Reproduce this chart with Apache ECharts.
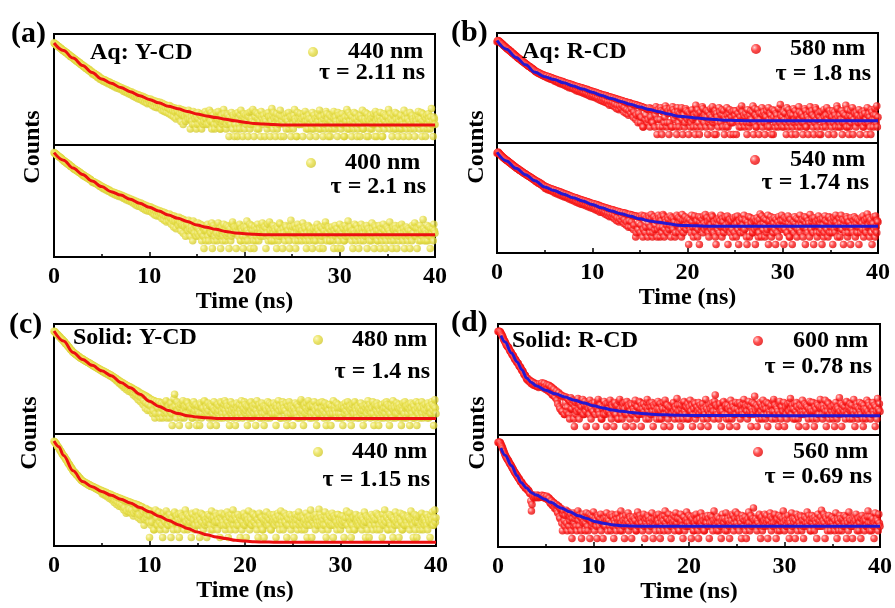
<!DOCTYPE html>
<html>
<head>
<meta charset="utf-8">
<script src="https://cdn.jsdelivr.net/npm/echarts/dist/echarts.min.js"></script>
<style>
  html, body { margin: 0; padding: 0; background: #fff; }
  #chart { width: 895px; height: 608px; }
</style>
</head>
<body>
<div id="chart"></div>
<script>
// TCSPC decay histograms: photon counts per 0.0625 ns channel, 0–40 ns (16 channels per row = 1 ns)
const timeStep = 0.0625;

// (a) Aq: Y-CD, 440 nm
const countsA440 = [
  5400,5000,4700,4650,4500,4150,3950,3900,3800,3500,3300,3300,3200,2950,2800,2700,
  2550,2600,2480,2250,2150,2180,2100,1900,1800,1850,1760,1580,1500,1550,1470,1380,
  1350,1240,1180,1220,1140,1030,990,1040,960,880,840,890,820,740,710,730,
  690,620,600,640,590,520,510,550,500,440,430,470,425,380,370,395,
  345,300,320,340,315,265,270,295,268,225,235,255,230,190,200,215,
  188,170,192,160,165,182,172,140,150,163,155,125,138,148,140,118,
  125,108,130,120,112,96,118,109,100,86,106,98,90,80,95,88,
  84,72,88,78,74,62,80,70,66,56,72,64,60,50,65,58,
  55,46,60,52,50,40,54,47,44,36,49,43,40,32,46,40,
  38,30,42,36,33,26,39,34,30,23,35,30,27,20,32,28,
  27,21,31,26,24,17,28,23,21,15,26,22,19,14,24,20,
  19,14,23,18,16,11,21,17,14,10,19,15,13,9,17,14,
  13,8,17,12,11,7,15,12,10,6,14,11,9,5,13,10,
  10,6,13,9,8,4,12,9,7,3,11,8,6,4,10,7,
  8,5,11,7,5,2,9,6,4,3,10,7,3,5,8,2,
  6,3,9,5,3,7,7,4,2,6,8,3,4,9,10,5,
  5,3,8,6,3,11,6,4,9,2,4,7,7,3,2,5,
  6,9,3,5,10,4,5,2,2,6,7,3,4,12,8,4,
  5,2,3,8,7,4,1,6,4,3,9,5,2,7,6,1,
  3,6,8,2,1,9,5,3,2,7,11,4,4,1,6,8,
  2,5,7,3,4,8,1,6,9,2,3,10,5,4,12,3,
  1,4,6,9,3,2,8,5,2,7,4,1,10,6,5,3,
  7,4,1,5,4,8,2,3,9,6,3,1,6,4,13,7,
  2,9,5,3,1,6,8,2,4,5,3,7,11,1,6,4,
  4,6,1,3,7,5,2,8,5,4,9,2,3,6,1,5,
  6,3,2,7,12,5,4,1,1,9,5,3,3,6,8,4,
  3,5,1,8,6,3,10,4,2,6,4,2,7,5,1,3,
  5,2,9,4,2,7,3,5,1,3,6,8,4,2,11,6,
  2,6,4,3,1,5,7,2,3,10,8,4,5,1,2,7,
  1,4,6,2,3,8,10,5,2,6,4,3,1,9,7,3,
  4,7,2,5,8,3,5,1,1,6,3,4,12,2,6,9,
  2,4,7,3,1,6,4,2,9,5,3,8,5,1,2,4,
  6,3,1,7,3,5,11,2,2,4,5,9,4,1,8,5,
  1,6,4,2,7,5,2,3,6,8,3,1,10,4,1,7,
  5,3,2,6,9,4,3,1,1,5,8,2,4,7,6,3,
  3,6,12,4,2,8,5,3,1,4,7,2,4,9,2,5,
  8,3,1,5,4,2,6,7,2,4,3,1,11,6,5,3,
  2,8,5,3,1,4,9,2,3,6,7,5,4,2,1,5,
  6,4,3,7,10,5,2,3,5,9,1,4,8,2,4,6,
  1,5,7,2,3,8,5,4,2,6,13,3,4,1,6,5,
  3
];
const fitA440 = [[0,5250],[1,2630],[2,1320],[3,676],[4,355],[5,195],[6,132],[7,89],[8,61],[9,42],
  [10,30],[11,22],[12,16],[13,12.8],[14,10],[15,7.9],[16,6.6],[17,5.7],[18,4.9],[19,4.2],
  [20,3.7],[21,3.3],[22,3.16],[23,3.0],[24,2.9],[30,2.9],[40,2.9]];

// (a) Aq: Y-CD, 400 nm
const countsA400 = [
  6100,5800,5400,5300,5150,4800,4550,4450,4300,4000,3850,3800,3650,3350,3200,3100,
  2950,2700,2820,2600,2450,2300,2380,2150,2050,2100,1990,1800,1720,1750,1650,1560,
  1500,1380,1340,1360,1300,1200,1160,1190,1120,1040,1000,1030,970,900,870,860,
  810,740,790,720,700,660,680,610,600,620,585,540,520,530,500,460,
  450,400,420,430,410,370,365,385,360,330,320,340,315,280,285,295,
  265,245,268,225,235,250,238,200,210,225,212,180,188,200,190,165,
  168,150,172,162,152,135,160,150,140,122,148,138,128,112,136,126,
  120,108,126,115,106,94,114,104,98,84,104,94,86,76,95,86,
  80,70,88,78,72,60,79,70,64,52,72,63,58,46,66,58,
  54,44,62,53,48,38,55,47,43,33,51,43,38,30,46,40,
  37,29,44,36,33,25,39,33,29,21,36,30,26,19,33,27,
  26,19,31,25,22,15,28,22,19,13,26,20,17,11,23,18,
  18,12,23,17,15,9,20,15,12,7,19,14,11,6,17,12,
  13,8,17,12,10,5,15,10,8,4,14,9,7,3,12,8,
  9,5,13,8,6,3,11,7,5,2,12,6,4,8,9,3,
  7,4,10,6,3,5,9,4,2,7,8,3,1,5,6,2,
  5,8,9,3,2,6,7,4,4,10,1,5,8,2,3,6,
  6,4,2,8,10,3,4,6,1,5,7,2,3,9,5,4,
  2,6,8,3,4,7,1,5,6,2,3,9,11,4,5,7,
  4,6,1,5,7,4,3,8,9,2,2,6,5,3,1,7,
  6,2,3,7,12,5,2,4,4,9,1,6,8,3,5,2,
  1,7,5,2,3,6,9,4,2,5,6,3,4,8,10,5,
  3,5,7,4,1,6,4,9,2,3,11,5,5,2,2,6,
  8,4,2,6,5,3,1,7,6,2,3,10,9,5,4,3,
  1,6,4,3,2,8,7,4,3,5,5,2,1,7,13,4,
  5,7,3,4,8,2,1,6,4,9,2,5,6,3,3,7,
  2,5,10,3,4,7,6,2,1,4,3,8,7,2,5,6,
  4,3,1,5,6,2,3,7,2,4,9,6,5,3,1,4,
  7,2,3,6,1,4,5,8,11,3,2,5,4,7,6,2,
  2,4,5,7,3,2,1,5,8,3,4,6,6,1,2,4,
  9,5,1,3,4,7,6,2,2,8,3,4,5,6,12,4,
  3,6,7,4,2,5,1,3,5,9,4,2,8,5,3,6,
  1,4,5,2,9,6,3,4,2,7,6,3,4,8,1,5,
  6,3,2,5,4,2,10,6,3,4,1,8,7,3,5,2,
  2,5,8,3,1,6,4,2,6,9,3,5,5,1,2,7,
  4,6,3,5,11,4,2,3,1,6,7,2,5,8,6,3,
  1,4,6,2,3,8,5,4,9,3,2,6,4,1,3,5,
  7,4,2,6,5,3,1,5,3,2,8,4,4,7,10,3,
  3,6,1,4,6,2,4,8,2,5,5,3,14,6,2,4,
  5,2,4,8,2,5,7,3,1,6,3,4,6,2,9,5,
  4
];
const fitA400 = [[0,6000],[1,3020],[2,1480],[3,832],[4,457],[5,275],[6,174],[7,127],[8,87],[9,60],
  [10,42],[11,30],[12,21],[13,15.5],[14,11.5],[15,8.4],[16,6.8],[17,5.7],[18,4.7],[19,4.1],
  [20,3.8],[21,3.6],[22,3.5],[30,3.5],[40,3.5]];

// (b) Aq: R-CD, 580 nm
const countsB580 = [
  5300,5800,6000,5700,5500,5200,5000,4700,4400,4300,4050,3800,3600,3500,3300,3150,
  3000,2800,2700,2650,2550,2350,2250,2200,2100,1950,1850,1820,1750,1600,1550,1500,
  1420,1330,1300,1200,1200,1100,1080,1050,1010,930,900,880,850,790,760,740,
  700,660,650,610,600,560,540,530,520,480,465,455,440,410,395,385,
  360,330,345,315,320,290,310,275,285,262,280,245,255,238,250,222,
  235,215,205,222,225,188,190,205,210,170,175,190,192,158,165,180,
  172,140,150,165,160,125,135,150,152,112,122,142,140,104,118,134,
  126,96,104,122,118,86,95,112,112,76,86,106,104,72,84,100,
  94,66,72,92,88,58,68,86,84,54,62,80,78,50,60,76,
  72,46,52,70,68,42,48,66,63,38,44,60,58,34,42,56,
  54,32,38,52,50,30,35,49,47,27,31,45,44,24,30,42,
  40,22,28,39,38,20,25,37,36,18,22,34,33,15,21,32,
  31,15,20,30,29,13,17,28,27,11,15,26,25,10,14,24,
  24,11,15,23,22,8,12,21,21,7,10,20,19,6,9,19,
  18,7,11,17,17,5,8,16,16,4,6,15,15,3,7,14,
  14,3,5,13,13,2,2,12,12,4,6,11,11,3,4,10,
  12,2,5,11,10,3,3,9,11,2,6,13,9,1,4,10,
  10,2,4,12,9,1,2,8,8,3,5,14,11,2,3,7,
  9,1,3,11,7,2,2,13,10,5,4,8,6,2,1,12,
  8,3,2,7,5,10,12,4,1,6,6,2,3,11,9,5,
  4,8,1,5,7,2,3,9,10,4,2,6,5,1,15,7,
  2,10,6,3,1,7,8,2,4,13,11,5,3,6,5,2,
  9,5,1,8,3,4,6,11,2,5,13,3,4,1,7,9,
  1,7,5,3,2,12,8,4,3,6,10,2,6,9,1,5,
  4,2,12,6,2,4,7,10,1,3,5,8,3,1,9,5,
  6,9,1,4,4,7,3,2,11,5,2,14,8,3,5,6,
  2,5,7,3,1,10,5,2,3,6,9,4,4,8,14,1,
  3,11,6,2,2,5,10,4,1,7,4,3,7,12,2,6,
  8,3,1,6,5,9,3,2,12,4,2,7,6,1,4,10,
  1,5,9,2,3,7,6,4,2,11,4,3,16,6,5,2,
  5,8,2,4,7,3,1,12,4,2,10,5,3,7,6,1,
  2,6,11,3,4,9,1,5,6,2,3,13,8,4,2,6,
  7,3,1,5,3,11,9,2,2,6,5,1,4,8,13,3,
  4,9,6,2,1,5,3,12,10,4,2,6,7,1,5,8,
  1,4,8,2,3,10,5,3,2,6,12,4,4,1,6,9,
  3,7,2,5,9,3,1,8,6,2,4,14,11,5,2,3,
  6,2,4,9,1,3,7,4,3,6,15,2,2,10,5,1,
  2,6,9,3,5,12,1,4,4,7,3,2,8,5,6,3,
  10,4,1,5,3,8,6,2,2,9,7,3,4,1,12,6,
  3,7,5,2,1,10,8,4,2,6,4,11,6,3,14,2,
  5
];
const fitB580 = [[0,6000],[1,2680],[2,1260],[3,631],[4,316],[5,210],[6,163],[7,120],[8,89],[9,67],
  [10,50],[11,37],[12,28],[13,21.5],[14,16.6],[15,12.7],[16,10.1],[17,8.3],[18,6.7],[19,5.5],
  [20,5.1],[21,4.6],[22,4.25],[23,4.0],[24,3.8],[25,3.7],[26,3.6],[40,3.6]];

// (b) Aq: R-CD, 540 nm
const countsB540 = [
  4600,5000,5200,4800,4500,4250,4000,3800,3600,3400,3250,3050,2900,2800,2650,2550,
  2450,2380,2250,2150,2080,1980,1900,1830,1750,1650,1600,1520,1450,1400,1350,1300,
  1250,1150,1130,1110,1080,1000,970,960,920,860,840,820,790,740,720,710,
  690,640,620,610,600,560,540,535,520,480,470,465,450,415,405,400,
  385,350,330,360,335,300,290,315,295,262,255,275,252,225,215,235,
  218,178,188,208,200,160,170,192,185,148,155,176,170,135,145,162,
  158,118,128,150,145,108,120,140,135,98,108,128,124,90,100,118,
  112,82,90,108,104,76,84,100,96,68,76,92,88,62,70,84,
  80,56,64,78,76,50,58,72,70,46,52,66,64,42,50,62,
  60,40,46,58,56,36,42,54,52,33,38,50,48,30,35,46,
  45,28,34,44,42,25,30,41,40,23,27,38,36,20,25,35,
  33,20,24,32,31,17,21,30,29,15,19,28,27,13,17,26,
  25,13,17,25,24,11,15,23,22,9,12,22,21,8,11,20,
  20,9,13,19,19,7,10,18,18,6,8,17,16,5,9,16,
  16,5,8,15,15,4,6,14,14,2,3,14,13,4,7,13,
  13,3,6,15,12,2,4,13,14,3,5,12,11,2,7,14,
  12,3,5,16,10,2,3,12,13,4,6,11,9,2,4,15,
  11,5,2,13,9,3,5,16,14,2,4,10,8,6,3,12,
  10,4,6,14,2,9,12,5,4,11,8,2,3,13,15,6,
  7,12,3,8,11,4,2,16,9,3,5,10,13,6,4,9,
  6,11,1,7,10,4,3,15,8,5,2,12,14,3,5,8,
  9,2,4,13,1,8,12,5,6,10,3,14,7,4,16,6,
  5,12,8,3,2,9,11,6,4,15,13,5,3,8,7,2,
  1,7,10,4,6,12,3,9,15,5,2,11,8,3,5,13,
  12,6,4,14,1,5,7,10,3,8,9,4,2,12,11,3,
  6,13,2,7,14,4,1,9,8,3,5,11,10,6,3,15,
  4,10,9,2,1,8,6,13,2,5,12,7,7,3,3,9,
  11,4,1,9,5,12,8,2,3,10,17,6,2,14,6,4,
  7,11,2,6,10,3,4,15,1,8,9,5,13,2,5,10,
  3,7,12,4,1,10,6,3,8,13,2,6,5,9,15,4,
  9,5,1,12,4,8,11,3,3,14,7,2,2,10,6,4,
  1,6,8,3,13,7,5,11,2,4,10,6,4,15,3,8,
  6,10,2,5,9,13,1,7,12,4,3,9,7,2,16,5,
  4,8,11,3,1,12,5,6,8,3,2,10,14,5,3,7,
  10,4,1,11,6,2,3,14,9,5,4,8,2,12,13,3,
  5,10,7,3,1,9,12,4,3,15,8,5,2,6,6,11,
  2,7,15,4,4,10,1,6,9,3,5,13,11,2,3,8,
  8,5,1,12,6,4,3,9,13,6,2,11,7,3,10,5,
  1,9,5,3,12,7,4,14,2,6,9,4,3,11,17,5,
  6,12,2,8,10,3,1,6,7,13,4,2,14,5,3,9,
  8
];
const fitB540 = [[0,5100],[1,2280],[2,1150],[3,640],[4,363],[5,205],[6,147],[7,106],[8,76],[9,56],
  [10,41],[11,30],[12,22.5],[13,17.5],[14,13.8],[15,10.8],[16,8.9],[17,7.9],[18,6.9],[19,6.0],
  [20,5.8],[21,5.7],[22,5.5],[40,5.5]];

// (c) Solid: Y-CD, 480 nm
const countsC480 = [
  6200,6000,5700,5200,4900,4700,4550,4200,3900,3750,3600,3300,3100,2950,2850,2650,
  2450,2400,2250,2000,1880,1850,1720,1560,1450,1420,1320,1180,1100,1080,1010,930,
  880,840,820,760,730,720,700,650,615,610,590,540,520,515,500,480,
  470,445,430,425,410,385,375,370,360,340,330,325,315,295,288,282,
  275,255,250,250,242,225,220,222,214,198,193,196,188,172,170,172,
  165,150,146,155,150,130,128,138,132,114,115,122,118,100,100,108,
  104,92,88,94,89,76,74,82,77,62,63,70,66,50,52,60,
  56,42,44,52,50,34,38,46,44,28,33,40,39,24,30,36,
  35,22,26,32,30,17,21,28,27,14,18,25,24,11,15,22,
  20,9,13,19,18,7,10,17,16,5,8,15,14,4,7,13,
  12,4,6,11,11,3,4,10,10,2,3,9,9,6,5,8,
  9,2,3,7,8,5,2,6,7,3,4,9,10,2,3,5,
  6,4,2,7,8,3,1,5,5,12,18,6,3,2,9,4,
  4,6,1,5,7,2,3,8,10,4,2,6,5,3,6,9,
  8,3,1,6,3,4,5,2,2,7,9,3,4,6,7,1,
  2,4,6,3,1,8,7,2,3,5,5,9,10,3,4,6,
  5,3,8,4,2,6,1,7,6,2,3,5,9,4,4,2,
  1,5,7,3,4,6,2,9,8,4,3,2,5,7,10,4,
  3,8,6,2,5,4,1,6,9,3,4,7,2,5,7,3,
  1,4,8,5,3,2,6,7,4,3,10,6,2,4,5,9,
  7,3,4,6,1,5,6,2,3,8,9,4,2,6,5,3,
  5,7,1,4,10,3,3,6,7,2,4,5,8,3,2,6,
  1,3,6,5,4,2,9,6,5,8,2,4,7,3,3,5,
  8,4,3,6,1,7,5,3,10,4,6,2,2,5,4,9,
  7,5,2,4,4,8,1,3,6,2,9,5,3,6,5,4,
  1,6,5,3,8,4,3,7,2,5,6,2,4,9,11,3,
  4,2,1,6,7,3,5,8,3,4,10,5,2,6,6,3,
  2,7,6,3,9,5,4,2,1,6,5,3,3,8,8,4,
  5,9,3,4,2,6,8,3,1,5,6,2,4,7,7,3,
  1,6,4,3,10,5,6,4,3,8,2,5,7,3,5,2,
  3,5,6,2,1,7,5,3,8,4,4,6,9,3,2,5,
  6,4,1,5,7,2,3,8,9,5,4,3,2,6,5,4,
  2,5,8,3,4,6,1,4,6,2,5,7,3,6,10,4,
  5,7,2,4,3,5,9,3,1,6,7,2,4,8,6,3,
  1,5,4,2,6,7,3,4,2,5,8,3,5,9,7,2,
  4,6,1,3,3,7,5,2,10,4,6,5,2,3,8,6,
  3,5,7,4,5,2,1,6,4,8,2,3,9,5,6,2,
  6,3,5,7,1,4,8,5,3,2,7,6,2,4,4,9,
  1,5,3,8,6,2,4,5,9,3,2,6,5,4,7,3,
  4,2,8,5,2,6,5,3,3,9,7,4,1,6,11,5,
  3
];
const fitC480 = [[0,6300],[1,2500],[2,870],[3,452],[4,263],[5,158],[6,101],[7,54],[8,33],[9,18],
  [10,9.5],[11,5.9],[12,4.0],[13,3.07],[14,2.49],[15,2.2],[16,2.05],[17,1.95],[18,1.94],[40,1.94]];

// (c) Solid: Y-CD, 440 nm
const countsC440 = [
  6200,5900,5500,5100,4800,4300,3900,3700,3450,3050,2750,2600,2400,2150,1950,1800,
  1650,1580,1460,1300,1180,1120,1040,920,830,790,730,650,590,560,520,470,
  430,400,370,360,340,310,290,285,268,245,228,222,210,190,178,175,
  168,160,150,155,148,138,130,136,130,120,115,122,116,105,102,108,
  104,100,96,98,94,88,84,90,84,78,75,80,74,68,66,72,
  68,52,58,66,62,46,50,60,56,40,44,54,50,34,40,50,
  46,30,36,45,42,24,30,41,40,20,26,38,36,17,22,35,
  33,16,20,32,30,12,15,29,28,9,11,27,26,10,13,25,
  24,9,12,23,22,7,9,21,21,11,14,20,19,6,8,18,
  17,5,7,16,16,8,10,3,5,12,14,6,8,11,12,4,
  1,7,11,3,4,8,9,2,2,10,12,5,6,3,3,9,
  10,4,2,6,7,3,1,8,9,5,4,2,11,6,5,3,
  3,6,8,4,1,5,6,3,2,9,10,4,4,7,7,2,
  5,8,1,4,9,5,3,7,6,3,2,6,12,4,4,8,
  2,5,7,3,4,6,1,9,8,4,5,2,3,7,10,5,
  6,4,3,7,1,5,9,3,4,8,2,6,7,3,5,4,
  1,6,8,4,5,7,3,2,11,5,2,6,6,3,4,9,
  7,4,2,5,4,8,1,6,9,3,5,4,3,7,8,2,
  3,5,10,4,1,7,6,3,2,8,4,5,12,3,5,7,
  2,6,5,3,8,4,3,6,1,5,7,2,4,8,9,3,
  6,3,1,7,4,5,11,4,2,6,5,3,3,9,8,4,
  4,6,7,3,2,5,1,8,9,4,3,6,6,2,2,5,
  1,4,5,7,10,3,4,6,3,5,8,2,2,7,6,4,
  8,5,3,6,1,4,5,9,7,3,2,5,11,6,4,3,
  2,6,9,4,4,7,1,3,6,5,3,8,5,2,7,4,
  5,3,1,6,8,4,3,5,2,7,10,3,4,6,6,2,
  3,7,6,4,2,5,9,3,1,6,4,5,7,3,12,5,
  1,5,4,6,7,3,2,8,5,4,3,6,13,4,8,3,
  6,4,2,5,3,7,10,3,1,6,5,2,4,8,7,3,
  4,6,9,3,1,7,3,5,6,4,2,8,8,3,5,4,
  2,7,5,3,7,4,1,5,4,6,11,3,3,8,6,2,
  9,4,1,5,3,6,6,2,2,7,8,4,5,3,4,6,
  3,5,7,4,2,6,5,3,10,4,1,7,4,2,6,5,
  1,6,4,3,8,5,2,7,6,4,3,5,9,2,5,8,
  7,3,2,6,5,4,1,8,3,5,12,3,4,7,6,2,
  2,5,8,4,3,7,6,2,1,6,5,3,10,4,4,7,
  5,3,1,6,9,5,4,2,2,8,7,3,3,5,6,4,
  3,7,6,3,2,5,11,4,5,3,1,6,8,2,4,7,
  1,5,4,6,7,2,3,8,9,4,2,5,6,3,5,4,
  8,3,2,6,5,4,1,7,4,5,10,3,3,6,12,4,
  6
];
const fitC440 = [[0,6300],[0.5,3800],[1,1700],[2,425],[3,161],[4,100],[5,65.5],[6,45.7],[7,32],[8,23],[9,15],
  [10,10.3],[11,6.9],[12,4.66],[13,3.2],[14,2.25],[15,1.63],[16,1.27],[17,1.04],[18,0.9],[19,0.77],
  [20,0.72],[21,0.67],[22,0.66],[23,0.65],[24,0.64],[40,0.64]];

// (d) Solid: R-CD, 600 nm
const countsD600 = [
  6000,6150,6200,6000,5800,5200,4600,4150,3700,3200,2750,2550,2300,2000,1750,1620,
  1500,1450,1350,1150,1000,960,900,780,700,680,640,540,480,470,430,380,
  350,340,320,270,245,240,225,190,170,165,155,128,115,112,108,90,
  78,72,82,68,62,70,66,54,50,60,58,46,44,54,50,42,
  40,44,48,40,36,46,50,42,38,52,55,40,34,50,52,36,
  30,40,46,30,26,44,42,24,22,38,36,18,18,32,30,16,
  14,22,26,11,8,20,22,6,5,17,18,4,4,15,16,3,
  3,9,15,4,6,13,12,3,2,10,14,5,5,8,11,2,
  1,6,9,3,4,11,13,5,2,7,8,4,6,10,12,3,
  3,7,10,4,1,6,7,9,5,3,11,6,2,5,8,4,
  4,8,9,3,1,5,6,10,12,4,3,7,7,2,2,6,
  5,3,10,6,3,8,1,4,8,5,4,9,11,3,2,7,
  6,4,1,8,9,3,3,6,7,2,2,10,12,5,4,3,
  2,6,8,4,5,9,1,3,10,6,3,7,6,2,4,8,
  7,3,1,5,4,8,11,4,2,6,6,3,3,10,9,5,
  1,7,5,3,8,4,3,6,2,9,12,5,4,2,6,8,
  3,6,9,4,1,7,6,3,4,8,2,5,10,4,5,2,
  8,4,2,6,5,9,1,3,11,5,3,7,7,2,4,6,
  1,5,6,3,3,8,9,4,2,6,5,3,13,7,4,2,
  4,7,1,5,7,3,2,9,10,4,3,6,6,2,8,5,
  2,6,11,4,4,7,1,3,5,9,8,2,3,6,6,4,
  9,5,3,7,1,4,6,8,2,5,4,3,12,6,5,2,
  1,4,7,3,5,8,3,6,9,4,2,10,18,7,4,3,
  6,3,2,7,8,4,1,5,4,9,10,3,3,6,7,2,
  3,7,5,2,1,6,11,4,2,8,6,3,4,5,9,3,
  1,5,8,3,4,9,2,6,7,4,3,8,12,3,5,7,
  6,4,2,7,10,3,4,6,1,5,9,4,3,8,16,5,
  4,7,1,5,6,2,3,9,8,4,2,6,11,3,5,7,
  2,5,9,3,1,8,5,4,3,6,7,2,4,10,12,4,
  7,2,3,6,5,4,1,8,10,3,2,6,6,4,4,9,
  1,5,6,3,2,7,8,4,4,9,13,5,3,7,5,2,
  5,8,2,4,9,6,3,2,1,5,7,3,4,6,11,4,
  3,6,8,4,1,7,6,3,2,5,10,4,5,9,4,2,
  9,4,1,6,4,5,2,8,7,3,3,6,12,5,6,3,
  2,7,5,3,11,4,1,6,4,9,8,2,3,5,6,4,
  6,2,3,7,1,4,9,5,2,6,5,3,14,4,4,8,
  1,5,7,3,4,6,2,9,10,4,3,5,6,2,8,4,
  5,7,2,4,12,3,1,6,4,8,6,2,3,5,9,4,
  3,6,8,2,1,7,5,4,2,5,11,3,4,9,7,3,
  2,5,6,3,9,4,3,7,1,6,4,2,13,5,5,8,
  4
];
const fitD600 = [[0.3,4200],[0.75,2290],[1.4,850],[2,372],[2.5,182],[3,85],[3.5,56.5],[4,41.7],[5,27.5],
  [6,20],[7,14.9],[8,11],[9,8.6],[10,6.7],[11,5.5],[12,4.5],[13,4.05],[14,3.6],[15,3.3],[16,3.1],
  [17,2.96],[18,2.88],[19,2.8],[22,2.75],[30,2.7],[40,2.7]];

// (d) Solid: R-CD, 560 nm
const countsD560 = [
  6100,6250,6300,6200,6000,5200,4500,4000,3500,3000,2600,2250,1950,1750,1550,1420,
  1300,1200,1100,960,880,820,760,670,600,560,500,450,410,380,350,320,
  300,270,240,230,215,190,170,168,160,140,125,122,118,104,96,98,
  95,86,78,80,72,62,58,30,12,22,52,44,40,50,47,40,
  44,48,52,44,40,46,48,42,45,49,50,44,42,47,47,38,
  40,42,46,35,33,40,38,26,24,32,30,20,20,26,25,15,
  16,20,22,12,10,19,18,7,6,14,15,4,2,9,12,5,
  3,8,13,4,2,9,11,3,5,7,9,2,1,6,10,3,
  4,6,8,3,2,10,12,5,3,8,7,2,1,6,9,4,
  5,7,2,4,10,6,3,2,6,9,1,5,8,3,4,7,
  11,5,2,6,5,3,1,8,7,4,3,6,9,2,4,5,
  1,4,6,3,3,7,10,5,2,6,5,3,8,2,4,9,
  7,3,1,5,4,8,2,6,9,4,3,5,6,2,12,4,
  2,7,5,3,1,6,8,4,3,5,10,2,4,7,6,3,
  1,5,7,4,3,6,5,2,2,8,11,3,4,6,8,5,
  6,4,2,7,9,3,1,5,4,6,3,8,7,2,5,4,
  3,6,10,4,1,5,6,3,2,7,8,4,5,9,4,2,
  1,6,4,3,7,5,2,8,12,4,3,6,6,2,9,5,
  5,3,1,6,3,4,8,5,2,7,10,3,4,6,6,2,
  2,6,9,4,5,3,1,7,7,2,3,5,11,6,4,3,
  8,4,3,7,1,5,6,2,2,8,4,3,9,5,5,2,
  1,5,6,3,10,4,3,7,5,2,2,6,7,4,4,8,
  3,6,1,4,8,3,4,7,2,5,12,4,5,3,6,2,
  7,4,2,6,4,3,1,5,9,6,3,4,6,2,10,5,
  2,6,5,3,1,4,7,5,3,9,8,2,4,6,11,3,
  4,7,9,3,2,6,5,4,1,8,6,3,3,5,7,2,
  1,5,3,6,11,4,2,7,8,3,4,6,16,5,5,3,
  6,3,2,5,4,8,9,3,1,6,7,2,3,4,5,9,
  3,6,8,4,1,5,5,3,10,7,2,4,6,3,4,8,
  9,4,1,5,6,2,3,8,2,5,7,3,4,6,12,4,
  2,7,5,3,3,6,8,4,1,5,4,2,10,3,6,5,
  4,6,1,5,9,3,2,7,6,4,3,8,7,2,5,3,
  1,5,7,3,4,6,11,4,3,8,5,2,2,6,8,4,
  6,3,2,7,5,4,1,6,9,3,4,5,3,7,13,4,
  3,5,9,4,1,7,6,3,2,5,8,4,5,2,4,6,
  7,4,3,6,2,5,10,3,1,6,5,2,4,8,6,3,
  2,5,6,3,8,4,3,7,1,5,4,2,11,6,5,3,
  5,3,1,6,3,4,7,5,9,3,2,6,6,2,4,7,
  1,6,8,3,4,5,2,6,5,3,3,7,12,4,7,2,
  4,7,2,5,6,3,1,4,10,5,3,6,5,2,9,4,
  3
];
const fitD560 = [[0.3,3700],[0.75,1910],[1.4,750],[2,297],[2.4,162],[3,97],[3.5,64],[4,51.5],[4.9,35],
  [5.5,26.5],[6.6,16],[7.5,11.3],[8.4,7.9],[9.2,6.3],[10.1,4.7],[11,4.0],[11.9,3.5],[13,3.2],
  [14,3.07],[15.4,3.0],[40,3.0]];

const FONT = '"Liberation Serif", "Times New Roman", serif';
const YELLOW = {
  type: 'radial', x: 0.35, y: 0.35, r: 0.75,
  colorStops: [{ offset: 0, color: '#faf5b0' }, { offset: 0.45, color: '#e7df48' }, { offset: 1, color: '#cdc42c' }]
};
const RED = {
  type: 'radial', x: 0.35, y: 0.35, r: 0.75,
  colorStops: [{ offset: 0, color: '#ffc4c4' }, { offset: 0.45, color: '#ff2020' }, { offset: 1, color: '#d80000' }]
};
const FIT_RED = '#ec1010';
const FIT_BLUE = '#2418d2';

// one entry per stacked sub-plot
const subplots = [
  { counts: countsA440, fit: fitA440, name: '440 nm', dot: YELLOW, line: FIT_RED,  rect: [54, 34, 381, 111],  bottom: false, legend: [308, 40, 25] },
  { counts: countsA400, fit: fitA400, name: '400 nm', dot: YELLOW, line: FIT_RED,  rect: [54, 145, 381, 112], bottom: true,  legend: [306, 151, 24] },
  { counts: countsB580, fit: fitB580, name: '580 nm', dot: RED,    line: FIT_BLUE, rect: [497, 33, 381, 110], bottom: false, legend: [751, 37, 24] },
  { counts: countsB540, fit: fitB540, name: '540 nm', dot: RED,    line: FIT_BLUE, rect: [497, 143, 381, 110], bottom: true, legend: [750, 148, 25] },
  { counts: countsC480, fit: fitC480, name: '480 nm', dot: YELLOW, line: FIT_RED,  rect: [54, 324, 382, 110], bottom: false, legend: [313, 328, 24] },
  { counts: countsC440, fit: fitC440, name: '440 nm', dot: YELLOW, line: FIT_RED,  rect: [54, 434, 382, 112], bottom: true,  legend: [313, 440, 24] },
  { counts: countsD600, fit: fitD600, name: '600 nm', dot: RED,    line: FIT_BLUE, rect: [498, 324, 382, 111], bottom: false, legend: [753, 329, 25] },
  { counts: countsD560, fit: fitD560, name: '560 nm', dot: RED,    line: FIT_BLUE, rect: [498, 435, 382, 112], bottom: true,  legend: [753, 440, 25] }
];

const labelStyle = { fontSize: 24, fontWeight: 'bold', fontFamily: FONT, color: '#000' };

const option = {
  animation: false,
  backgroundColor: '#fff',
  grid: [], xAxis: [], yAxis: [], series: [], legend: [], graphic: []
};

subplots.forEach((s, i) => {
  const [left, top, width, height] = s.rect;
  option.grid.push({
    left, top, width, height, show: true, borderColor: '#000', borderWidth: 2,
    backgroundColor: 'transparent', containLabel: false
  });
  option.xAxis.push({
    gridIndex: i, type: 'value', min: 0, max: 40, interval: 10,
    axisLine: { show: false }, splitLine: { show: false },
    axisTick: { show: s.bottom, inside: true, length: 5, lineStyle: { color: '#000', width: 1.5 } },
    minorTick: { show: s.bottom, splitNumber: 2, length: 3, lineStyle: { color: '#000', width: 1.5 } },
    axisLabel: Object.assign({ show: s.bottom, margin: 8 }, labelStyle),
    name: s.bottom ? 'Time (ns)' : '', nameLocation: 'middle', nameGap: 32,
    nameTextStyle: labelStyle
  });
  option.yAxis.push({
    gridIndex: i, type: 'log', logBase: 10, min: 0.46, max: 12000,
    axisLine: { show: false }, axisTick: { show: false }, axisLabel: { show: false },
    splitLine: { show: false }
  });
  option.series.push({
    type: 'scatter', name: s.name, xAxisIndex: i, yAxisIndex: i,
    data: s.counts.map((c, k) => [k * timeStep, c]),
    symbolSize: 7.5, itemStyle: { color: s.dot }, z: 2
  });
  option.series.push({
    type: 'line', name: s.name + ' fit', xAxisIndex: i, yAxisIndex: i,
    data: s.fit, smooth: 0.35, smoothMonotone: 'x', showSymbol: false,
    lineStyle: { color: s.line, width: 3 }, z: 3
  });
  option.legend.push({
    left: s.legend[0], top: s.legend[1], padding: 0, selectedMode: false,
    icon: 'circle', itemWidth: 10, itemHeight: 10, data: [s.name],
    textStyle: { fontSize: 24, fontWeight: 'bold', fontFamily: FONT, color: '#000', padding: [0, 0, 0, s.legend[2]] }
  });
});

function txt(text, x, y, opts) {
  const o = opts || {};
  return {
    type: 'text', x, y, rotation: o.rotation || 0, z: 10,
    style: {
      text, fill: '#000', font: 'bold ' + (o.size || 24) + 'px ' + FONT,
      align: o.align || 'left', verticalAlign: 'middle'
    }
  };
}

option.graphic = [
  txt('(a)', 11, 34, { size: 30 }),
  txt('Aq: Y-CD', 90, 53),
  txt('τ = 2.11 ns', 425, 73, { align: 'right' }),
  txt('τ = 2.1 ns', 426, 187, { align: 'right' }),
  txt('Counts', 33, 147, { align: 'center', rotation: Math.PI / 2 }),

  txt('(b)', 451, 33, { size: 30 }),
  txt('Aq: R-CD', 522, 52),
  txt('τ = 1.8 ns', 871, 74, { align: 'right' }),
  txt('τ = 1.74 ns', 869, 183, { align: 'right' }),
  txt('Counts', 477, 147, { align: 'center', rotation: Math.PI / 2 }),

  txt('(c)', 9, 325, { size: 30 }),
  txt('Solid: Y-CD', 73, 338),
  txt('τ = 1.4 ns', 430, 372, { align: 'right' }),
  txt('τ = 1.15 ns', 430, 480, { align: 'right' }),
  txt('Counts', 30, 433, { align: 'center', rotation: Math.PI / 2 }),

  txt('(d)', 451, 323, { size: 30 }),
  txt('Solid: R-CD', 512, 341),
  txt('τ = 0.78 ns', 872, 367, { align: 'right' }),
  txt('τ = 0.69 ns', 872, 477, { align: 'right' }),
  txt('Counts', 478, 433, { align: 'center', rotation: Math.PI / 2 })
];

const chart = echarts.init(document.getElementById('chart'), null, { renderer: 'canvas' });
chart.setOption(option);
</script>
</body>
</html>
